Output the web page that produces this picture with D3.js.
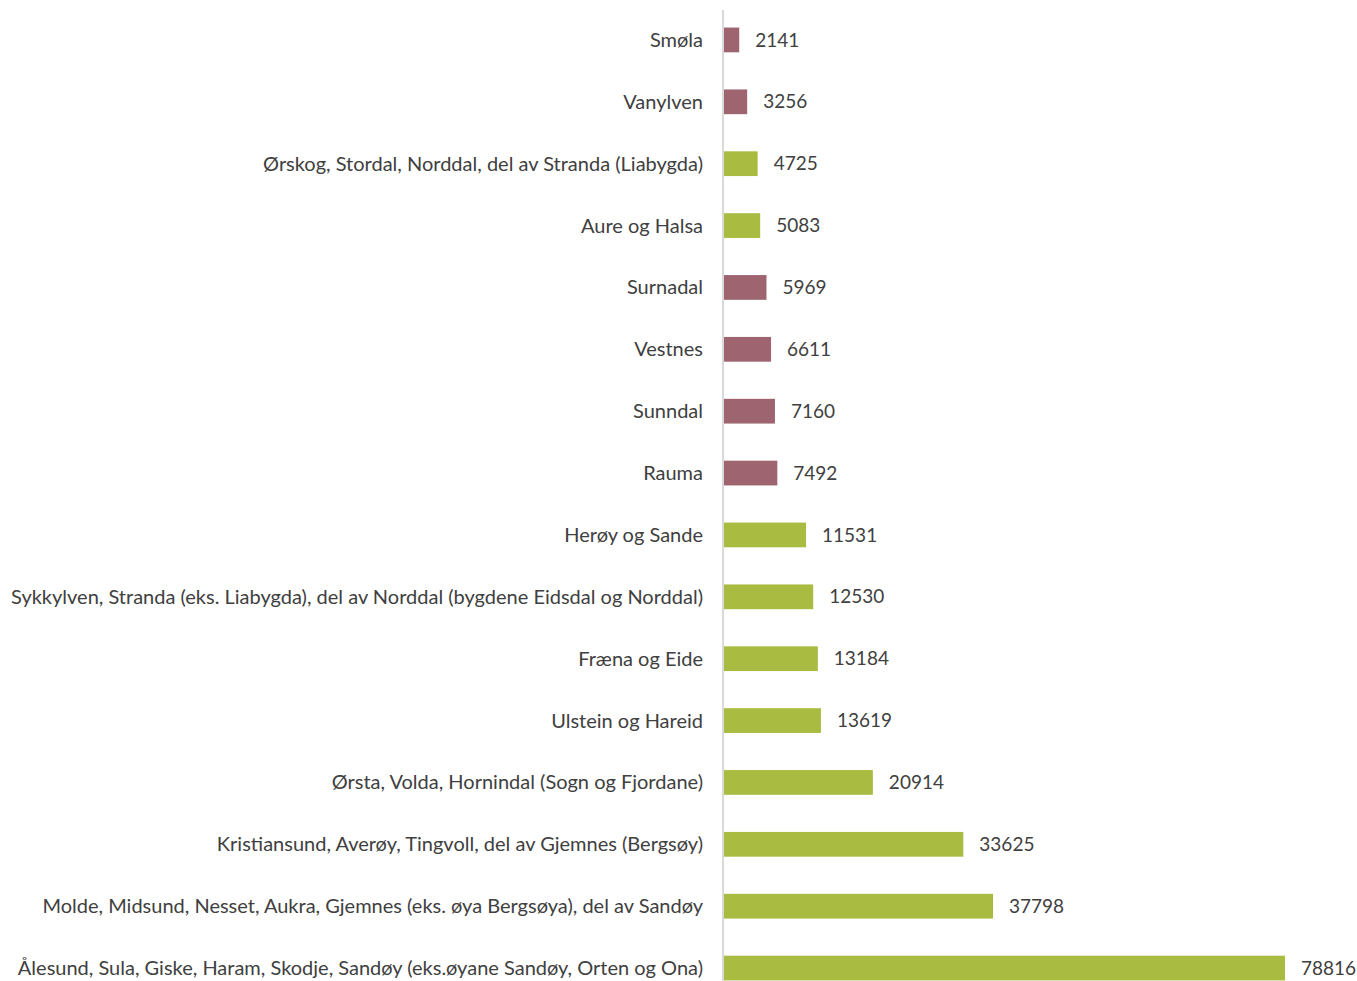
<!DOCTYPE html>
<html>
<head>
<meta charset="utf-8">
<script src="https://cdn.jsdelivr.net/npm/d3@7/dist/d3.min.js"></script>
<style>
  html, body { margin: 0; padding: 0; background: #fff; }
  svg { display: block; }
</style>
</head>
<body>
<svg id="chart" width="1357" height="981"></svg>
<script>
const categories = [
  "Smøla",
  "Vanylven",
  "Ørskog, Stordal, Norddal, del av Stranda (Liabygda)",
  "Aure og Halsa",
  "Surnadal",
  "Vestnes",
  "Sunndal",
  "Rauma",
  "Herøy og Sande",
  "Sykkylven, Stranda (eks. Liabygda), del av Norddal (bygdene Eidsdal og Norddal)",
  "Fræna og Eide",
  "Ulstein og Hareid",
  "Ørsta, Volda, Hornindal (Sogn og Fjordane)",
  "Kristiansund, Averøy, Tingvoll, del av Gjemnes (Bergsøy)",
  "Molde, Midsund, Nesset, Aukra, Gjemnes (eks. øya Bergsøya), del av Sandøy",
  "Ålesund, Sula, Giske, Haram, Skodje, Sandøy (eks.øyane Sandøy, Orten og Ona)"
];
const values = [2141, 3256, 4725, 5083, 5969, 6611, 7160, 7492, 11531, 12530, 13184, 13619, 20914, 33625, 37798, 78816];
const groups = ["a", "a", "b", "b", "a", "a", "a", "a", "b", "b", "b", "b", "b", "b", "b", "b"];

const colorMap = { a: "#9e6571", b: "#aabb41" };

const svg = d3.select("#chart");
const x0 = 724;
const x = d3.scaleLinear().domain([0, 78816]).range([x0, 1285]);
const y = d3.scaleBand().domain(categories).range([9, 999]).paddingInner(0.6).paddingOuter(0.3);

const data = categories.map((c, i) => ({ c, v: values[i], g: groups[i] }));

svg.append("g").selectAll("rect").data(data).join("rect")
  .attr("x", x(0))
  .attr("y", d => y(d.c))
  .attr("width", d => x(d.v) - x(0))
  .attr("height", y.bandwidth())
  .attr("fill", d => colorMap[d.g]);

svg.append("line")
  .attr("x1", x0 - 1).attr("x2", x0 - 1)
  .attr("y1", 10).attr("y2", 981)
  .attr("stroke", "#d9d9d9").attr("stroke-width", 2);

const font = "Lato, 'Open Sans', sans-serif";

svg.append("g").selectAll("text").data(data).join("text")
  .attr("x", 703)
  .attr("y", d => y(d.c) + y.bandwidth() / 2)
  .attr("dy", "0.35em")
  .attr("text-anchor", "end")
  .attr("font-family", font)
  .attr("font-size", 20)
  .attr("fill", "#404040")
  .text(d => d.c);

svg.append("g").selectAll("text").data(data).join("text")
  .attr("x", d => x(d.v) + 16)
  .attr("y", d => y(d.c) + y.bandwidth() / 2)
  .attr("dy", "0.35em")
  .attr("text-anchor", "start")
  .attr("font-family", font)
  .attr("font-size", 19)
  .attr("fill", "#404040")
  .text(d => d.v);
</script>
</body>
</html>
